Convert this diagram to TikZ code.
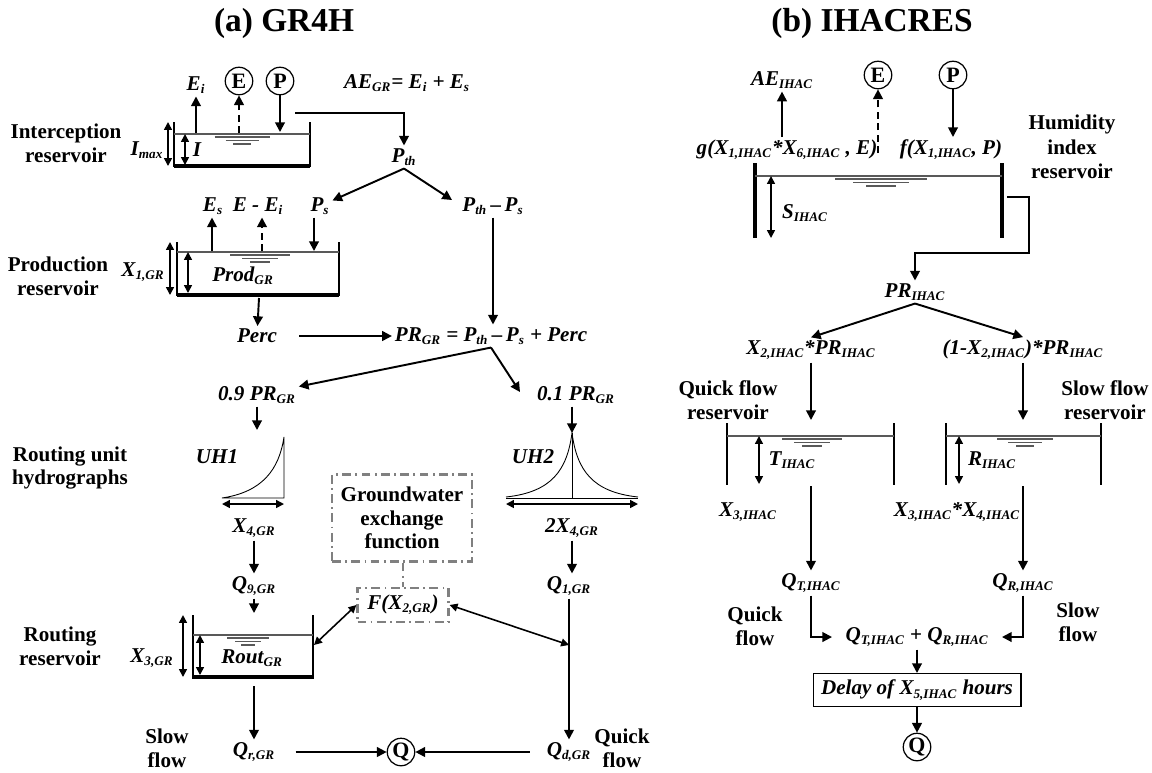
\documentclass[tikz,border=0pt]{standalone}
\usepackage{fontspec}
\setmainfont{Liberation Serif}
\usetikzlibrary{arrows.meta}
\newcommand{\lsub}[1]{\textsubscript{\fontsize{7.5}{8}\selectfont #1}}
\newcommand{\waterlines}[3]{% centre x, water level y, width
  \draw[surface] ({#1-0.50*#3},{#2+3}) -- ({#1+0.50*#3},{#2+3});
  \draw[surface] ({#1-0.30*#3},{#2+6.5}) -- ({#1+0.30*#3},{#2+6.5});
  \draw[surface] ({#1-0.16*#3},{#2+10}) -- ({#1+0.16*#3},{#2+10});}

\begin{document}
\begin{tikzpicture}[
 x=0.02cm,y=-0.02cm,
 title/.style={font=\fontsize{19}{22}\selectfont\bfseries},
 side/.style={font=\fontsize{12}{13.5}\selectfont\bfseries,align=center,inner sep=1pt},
 var/.style={font=\fontsize{12}{14}\selectfont\bfseries\itshape,inner sep=1.5pt},
 inp/.style={circle,draw,line width=0.7pt,inner sep=0pt,minimum size=0.55cm,font=\fontsize{12.5}{12.5}\selectfont\bfseries},
 arr/.style={-{Triangle[length=5.5pt,width=5.5pt]},line width=1.1pt},
 evap/.style={dash pattern=on 4pt off 2.5pt},
 dbl/.style={{Triangle[length=4.5pt,width=4.5pt]}-{Triangle[length=4.5pt,width=4.5pt]},line width=0.9pt},
 wall/.style={line width=1.2pt},
 floor/.style={line width=1.8pt},
 surface/.style={draw=gray!70!black,line width=0.6pt},
 gw/.style={draw=gray,line width=1.3pt,dash pattern=on 5pt off 2.5pt on 1pt off 2.5pt},
 uh/.style={line width=0.5pt}]
\useasboundingbox (0,0) rectangle (1152,772);

\node[title] (ta) at (284,23) {(a) GR4H};
\node[title] (tb) at (872,23) {(b) IHACRES};

% (a) GR4H
\node[side] (lint) at (66,143) {Interception\\reservoir};
\node[side] (lprod) at (58,276) {Production\\reservoir};
\node[side] (luh) at (70,468) {Routing unit\\hydrographs};
\node[side] (lrout) at (60,646) {Routing\\reservoir};
\node[side] (lslow) at (167,748) {Slow\\flow};
\node[side] (lquick) at (622,748) {Quick\\flow};

% interception reservoir
\draw[wall] (174,122) -- (174,166) -- (310,166) -- (310,122);
\draw[floor] (174,166) -- (310,166);
\draw[surface] (174,134) -- (310,134);
\waterlines{242}{134}{55}
\draw[dbl] (168,122) -- (168,166);
\draw[dbl] (185,134) -- (185,165);
\node[var] (Imax) at (147,150) {I\lsub{max}};
\node[var] (I) at (197,150) {I};
\coordinate (iEi) at (196,133);
\coordinate (iE) at (239,133);
\coordinate (iP) at (280,132);
\coordinate (iout) at (295,113);

\node[var] (Ei) at (196,85) {E\lsub{i}};
\node[inp] (E1) at (239,81) {E};
\node[inp] (P1) at (280,81) {P};
\node[var] (AEgr) at (407,83) {AE\lsub{GR}= E\lsub{i} + E\lsub{s}};
\node[var] (Pth) at (404,157) {P\lsub{th}};
\draw[arr] (iEi) -- (Ei);
\draw[arr,evap] (iE) -- (E1);
\draw[arr] (P1) -- (iP);
\draw[arr] (iout) -| (Pth);

% production reservoir
\node[var] (Es) at (213,206) {E\lsub{s}};
\node[var] (EEi) at (258,206) {E - E\lsub{i}};
\node[var] (Ps) at (320,206) {P\lsub{s}};
\node[var] (PthPs) at (493,206) {P\lsub{th}\,–\,P\lsub{s}};
\coordinate (spl) at (452,200);
\draw[arr] (Pth.south) -- (Ps);
\draw[arr] (Pth.south) -- (spl);

\draw[wall] (177,242) -- (177,295) -- (339,295) -- (339,242);
\draw[floor] (177,295) -- (339,295);
\draw[surface] (177,252) -- (339,252);
\waterlines{260}{252}{60}
\draw[dbl] (170,242) -- (170,295);
\draw[dbl] (188,252) -- (188,293);
\node[var] (X1) at (143,272) {X\lsub{1,GR}};
\node[var] (Prod) at (243,276) {Prod\lsub{GR}};
\coordinate (pEs) at (212,251);
\coordinate (pEEi) at (262,251);
\coordinate (pPs) at (314,251);
\coordinate (pout) at (259,298);
\draw[arr] (pEs) -- (pEs |- Es.south);
\draw[arr,evap] (pEEi) -- (pEEi |- EEi.south);
\draw[arr] (Ps.south -| pPs) -- (pPs);

\node[var] (Perc) at (257,336) {Perc};
\node[var] (PR) at (491,336) {PR\lsub{GR} = P\lsub{th}\,–\,P\lsub{s} + Perc};
\draw[arr] (pout) -- (Perc);
\draw[arr,shorten <=11pt] (Perc) -- (PR);
\draw[arr] (PthPs) -- (PthPs |- PR.north);

% unit hydrographs
\node[var] (p09) at (257,395) {0.9 PR\lsub{GR}};
\node[var] (p01) at (576,395) {0.1 PR\lsub{GR}};
\coordinate (p01in) at (520,392);
\draw[arr] (PR.south) -- (p09);
\draw[arr] (PR.south) -- (p01in);

\coordinate (uh1in) at (257,430);
\draw[arr] (p09) -- (uh1in);
\draw[uh] (222,498) .. controls (262,492) and (279,470) .. (284,437) -- (284,498) -- cycle;
\draw[dbl] (222,504) -- (284,504);
\node[var] (UH1) at (217,457) {UH1};
\node[var] (X4) at (254,528) {X\lsub{4,GR}};
\node[var] (Q9) at (254,586) {Q\lsub{9,GR}};
\draw[arr] (X4) -- (Q9);

\coordinate (uh2top) at (572,433);
\draw[arr] (p01.south -| uh2top) -- (uh2top);
\draw[uh] (506,497) .. controls (552,492) and (567,470) .. (uh2top) .. controls (577,470) and (592,492) .. (638,497);
\draw[uh] (uh2top) -- (572,498);
\draw[uh] (506,498) -- (638,498);
\draw[dbl] (506,504) -- (638,504);
\node[var] (UH2) at (533,457) {UH2};
\node[var] (X42) at (572,528) {2X\lsub{4,GR}};
\node[var] (Q1) at (569,586) {Q\lsub{1,GR}};
\draw[arr] (X42) -- (X42 |- Q1.north);

% groundwater exchange
\node[gw,side,minimum width=2.8cm,minimum height=1.74cm] (gwf) at (402,518) {Groundwater\\exchange\\function};
\node[gw,var,minimum width=1.82cm,minimum height=0.68cm] (F) at (403,605) {F(X\lsub{2,GR})};
\draw[gw] (F.north |- gwf.south) -- (F.north);

% routing reservoir
\draw[wall] (193,615) -- (193,677);
\draw[wall] (313,615) -- (313,677);
\draw[line width=2.6pt] (192,677) -- (314,677);
\draw[surface] (193,635) -- (313,635);
\waterlines{248}{635}{42}
\draw[dbl] (183,615) -- (183,677);
\draw[dbl] (200,635) -- (200,675);
\node[var] (X3) at (152,658) {X\lsub{3,GR}};
\node[var] (Rout) at (252,658) {Rout\lsub{GR}};
\coordinate (rin) at (254,613);
\coordinate (rwall) at (314,645);
\coordinate (rout) at (254,686);
\coordinate (qjoin) at (569,645);
\draw[arr] (Q9) -- (rin);
\draw[dbl] (F.west) -- (rwall);
\draw[dbl] (F.east) -- (qjoin);

\node[var] (Qr) at (254,752) {Q\lsub{r,GR}};
\node[var] (Qd) at (569,752) {Q\lsub{d,GR}};
\node[inp] (Qa) at (401,752) {Q};
\draw[arr] (rout) -- (Qr);
\draw[arr] (Q1) -- (Qd);
\draw[arr,shorten <=10pt] (Qr) -- (Qa);
\draw[arr,shorten <=8pt] (Qd) -- (Qa);

% (b) IHACRES
\node[var] (AEi) at (782,80) {AE\lsub{IHAC}};
\node[inp] (E2) at (878,75) {E};
\node[inp] (P2) at (953,75) {P};
\node[var] (gfun) at (787,150) {g(X\lsub{1,IHAC}*X\lsub{6,IHAC} , E)};
\node[var] (ffun) at (951,150) {f(X\lsub{1,IHAC}, P)};
\node[side,font=\fontsize{12}{14}\selectfont\bfseries] (lhum) at (1072,147) {Humidity\\index\\reservoir};
\coordinate (hE) at (878,153);
\draw[arr] (AEi |- gfun.north) -- (AEi);
\draw[arr,evap] (hE) -- (E2);
\draw[arr] (P2) -- (P2 |- ffun.north);

% humidity index reservoir
\draw[line width=2.6pt] (755,163) -- (755,238);
\draw[line width=2.6pt] (1002,163) -- (1002,238);
\draw[surface] (755,176) -- (1002,176);
\waterlines{881}{176}{92}
\draw[dbl] (771,176) -- (771,238);
\node[var] (Si) at (805,213) {S\lsub{IHAC}};
\coordinate (hout) at (1007,197);
\coordinate (hbend) at (1029,253);
\node[var] (PRi) at (915,292) {PR\lsub{IHAC}};
\draw[arr] (hout) -| (hbend) -| (PRi);

\node[var] (X2PR) at (811,350) {X\lsub{2,IHAC}*PR\lsub{IHAC}};
\node[var] (X2PRb) at (1023,350) {(1-X\lsub{2,IHAC})*PR\lsub{IHAC}};
\draw[arr] (PRi.south) -- (X2PR.north);
\draw[arr] (PRi.south) -- (X2PRb.north);

\node[side,font=\fontsize{12}{14}\selectfont\bfseries] (lqres) at (728,400) {Quick flow\\reservoir};
\node[side,font=\fontsize{12}{14}\selectfont\bfseries] (lsres) at (1105,400) {Slow flow\\reservoir};

% quick and slow flow reservoirs
\foreach \xa/\xb in {727/894,946/1101}{
  \draw[line width=1.6pt] (\xa,423) -- (\xa,485);
  \draw[line width=1.6pt] (\xb,423) -- (\xb,485);
  \draw[surface] (\xa,436) -- (\xb,436);}
\waterlines{812}{436}{60}
\waterlines{1025}{436}{56}
\draw[dbl] (759,436) -- (759,484);
\draw[dbl] (959,436) -- (959,484);
\node[var] (Ti) at (792,460) {T\lsub{IHAC}};
\node[var] (Ri) at (992,460) {R\lsub{IHAC}};
\coordinate (qin) at (811,420);
\coordinate (sin) at (1023,420);
\coordinate (qout) at (811,486);
\coordinate (sout) at (1023,486);
\draw[arr] (X2PR) -- (qin);
\draw[arr] (X2PRb) -- (sin);

\node[var] (X3i) at (748,512) {X\lsub{3,IHAC}};
\node[var] (X34i) at (957,512) {X\lsub{3,IHAC}*X\lsub{4,IHAC}};
\node[var] (QT) at (811,583) {Q\lsub{T,IHAC}};
\node[var] (QR) at (1023,583) {Q\lsub{R,IHAC}};
\draw[arr] (qout) -- (QT);
\draw[arr] (sout) -- (QR);
\node[side] (lqf) at (755,626) {Quick\\flow};
\node[side] (lsf) at (1078,622) {Slow\\flow};

\node[var] (Sum) at (917,637) {Q\lsub{T,IHAC} {\upshape+} Q\lsub{R,IHAC}};
\draw[arr,shorten >=6pt] (QT) |- (Sum);
\draw[arr,shorten >=6pt] (QR) |- (Sum);
\node[draw,line width=0.6pt,var,minimum width=4.16cm,minimum height=0.66cm] (Delay) at (917,690) {Delay of X\lsub{5,IHAC} hours};
\node[inp] (Qb) at (917,747) {Q};
\draw[arr] (Sum) -- (Delay);
\draw[arr] (Delay) -- (Qb);
\end{tikzpicture}
\end{document}
